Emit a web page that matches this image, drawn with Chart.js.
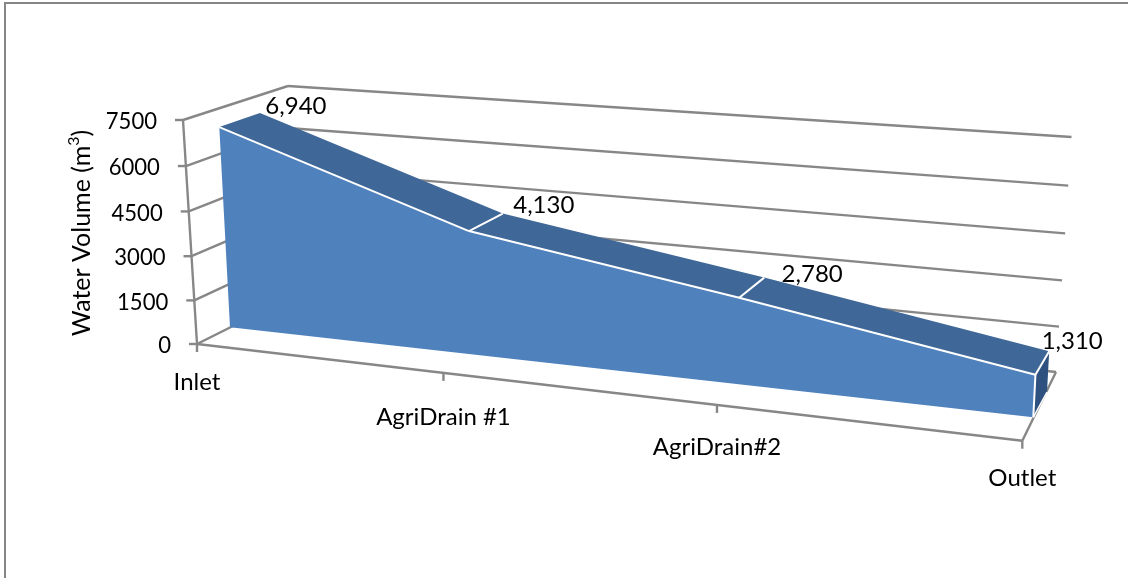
<!DOCTYPE html>
<html>
<head>
<meta charset="utf-8">
<script src="https://cdn.jsdelivr.net/npm/chart.js@4"></script>
<style>
  html, body { margin: 0; background: #fff; }
  canvas { display: block; }
</style>
</head>
<body>
<canvas id="volume-chart" width="1128" height="578"></canvas>
<script>
const categories = ['Inlet', 'AgriDrain #1', 'AgriDrain#2', 'Outlet'];
const waterVolume = [6940, 4130, 2780, 1310];
const yMax = 7500;
const yStep = 1500;
const yTitle = ['Water Volume (m', '3', ')'];

// label nudges in px, Excel doesn't place these evenly
const categoryDrop = [38, 44, 42, 38];
const valueNudge = [[36, -7], [41, -8], [48, -3], [23, -10]];

const FONT = '24px Lato';
const GREY = '#878787';
const LINE_W = 2.4;

// unit square to quad, corners given bl, br, tr, tl
function plane(p0, p1, p2, p3) {
  const dx1 = p1[0] - p2[0], dx2 = p3[0] - p2[0], dx3 = p0[0] - p1[0] + p2[0] - p3[0];
  const dy1 = p1[1] - p2[1], dy2 = p3[1] - p2[1], dy3 = p0[1] - p1[1] + p2[1] - p3[1];
  const den = dx1 * dy2 - dx2 * dy1;
  const g = (dx3 * dy2 - dx2 * dy3) / den;
  const h = (dx1 * dy3 - dx3 * dy1) / den;
  const a = p1[0] - p0[0] + g * p1[0], b = p3[0] - p0[0] + h * p3[0];
  const d = p1[1] - p0[1] + g * p1[1], e = p3[1] - p0[1] + h * p3[1];
  return (u, v) => {
    const w = g * u + h * v + 1;
    return [(a * u + b * v + p0[0]) / w, (d * u + e * v + p0[1]) / w];
  };
}

// the 3-D box, one plane per depth
const frontAxis = plane([197, 344], [1022.3, 440.7], [1039.5, 180], [183, 120]);
const backWall = plane([303, 291], [1056, 372], [1071.5, 137], [288, 86]);
const areaFront = plane([230, 327.3], [1033.3, 417.3], [1045.8, 167.3], [218.4, 110.5]);
const areaBack = plane([271, 306.6], [1047, 392], [1060, 152], [259, 97]);

function line(ctx, a, b, color, width) {
  ctx.beginPath();
  ctx.moveTo(a[0], a[1]);
  ctx.lineTo(b[0], b[1]);
  ctx.strokeStyle = color;
  ctx.lineWidth = width;
  ctx.stroke();
}

function poly(ctx, pts, fill) {
  ctx.beginPath();
  pts.forEach((p, i) => i ? ctx.lineTo(p[0], p[1]) : ctx.moveTo(p[0], p[1]));
  ctx.closePath();
  ctx.fillStyle = fill;
  ctx.fill();
}

const box3d = {
  id: 'box3d',
  beforeDatasetsDraw(chart) {
    const { ctx, chartArea: area, scales: { x, y } } = chart;
    const vOf = val => (area.bottom - y.getPixelForValue(val)) / area.height;
    const uOf = i => (x.getPixelForValue(i) - area.left) / area.width;
    const pts = chart.getDatasetMeta(0).data;
    const us = pts.map(p => (p.x - area.left) / area.width);
    const vs = pts.map(p => (area.bottom - p.y) / area.height);
    const last = us.length - 1;

    ctx.save();
    ctx.lineCap = 'butt';

    // sheet outline
    ctx.fillStyle = '#868686';
    ctx.fillRect(4, 2, 1124, 2);
    ctx.fillRect(4, 2, 2, 576);

    // gridlines, side wall then back wall
    y.ticks.forEach(t => {
      const v = vOf(t.value);
      const front = frontAxis(0, v);
      line(ctx, [front[0] - 8, front[1]], front, GREY, LINE_W);
      line(ctx, front, backWall(0, v), GREY, LINE_W);
      line(ctx, backWall(0, v), backWall(1, v), GREY, LINE_W);
    });

    // axes and floor edge
    line(ctx, frontAxis(0, 0), frontAxis(0, 1), GREY, LINE_W);
    line(ctx, frontAxis(0, 0), frontAxis(1, 0), GREY, LINE_W);
    line(ctx, frontAxis(1, 0), backWall(1, 0), GREY, LINE_W);
    categories.forEach((c, i) => {
      const p = frontAxis(uOf(i), 0);
      line(ctx, p, [p[0], p[1] + 8], GREY, LINE_W);
    });

    // area solid: top strips, end cap, front face
    for (let i = 0; i < last; i++) {
      poly(ctx, [
        areaFront(us[i], vs[i]), areaFront(us[i + 1], vs[i + 1]),
        areaBack(us[i + 1], vs[i + 1]), areaBack(us[i], vs[i])
      ], '#3f6797');
    }
    const cap = [
      areaFront(us[last], 0), areaFront(us[last], vs[last]),
      areaBack(us[last], vs[last]), areaBack(us[last], 0)
    ];
    poly(ctx, cap, '#2f5180');

    const face = us.map((u, i) => areaFront(u, vs[i]));
    face.push(areaFront(us[last], 0), areaFront(us[0], 0));
    poly(ctx, face, '#4f81bd');

    // white edges
    for (let i = 0; i < last; i++) {
      line(ctx, face[i], face[i + 1], '#fff', 2);
    }
    for (let i = 1; i <= last; i++) {
      line(ctx, areaFront(us[i], vs[i]), areaBack(us[i], vs[i]), '#fff', 2);
    }
    line(ctx, cap[0], cap[1], '#fff', 2);
    line(ctx, cap[0], cap[3], '#fff', 1.5);
    ctx.restore();
  },
  afterDatasetsDraw(chart) {
    const { ctx, chartArea: area, scales: { x, y } } = chart;
    const vOf = val => (area.bottom - y.getPixelForValue(val)) / area.height;
    const pts = chart.getDatasetMeta(0).data;

    ctx.save();
    ctx.font = FONT;
    ctx.fillStyle = '#000';
    ctx.textBaseline = 'middle';

    // value axis labels, squeezed a little since Lato digits run wide
    ctx.textAlign = 'right';
    y.ticks.forEach(t => {
      const p = frontAxis(0, vOf(t.value));
      const w = ctx.measureText(t.label).width;
      ctx.fillText(t.label, p[0] - 26, p[1] + 1.5, w * 0.92);
    });

    // category labels
    ctx.textAlign = 'center';
    categories.forEach((c, i) => {
      const p = frontAxis((x.getPixelForValue(i) - area.left) / area.width, 0);
      ctx.fillText(c, p[0], p[1] + categoryDrop[i]);
    });

    // value labels sit by the back edge of the solid
    waterVolume.forEach((val, i) => {
      const p = areaBack((pts[i].x - area.left) / area.width, (area.bottom - pts[i].y) / area.height);
      ctx.fillText(val.toLocaleString('en-US'), p[0] + valueNudge[i][0], p[1] + valueNudge[i][1]);
    });

    // rotated axis title with a raised 3
    ctx.font = '25px Lato';
    ctx.translate(82, 233);
    ctx.rotate(-Math.PI / 2);
    ctx.textAlign = 'left';
    const w0 = ctx.measureText(yTitle[0]).width;
    const w2 = ctx.measureText(yTitle[2]).width;
    ctx.font = '16px Lato';
    const w1 = ctx.measureText(yTitle[1]).width;
    const start = -(w0 + w1 + w2) / 2;
    ctx.fillText(yTitle[1], start + w0, -8);
    ctx.font = '25px Lato';
    ctx.fillText(yTitle[0], start, 0);
    ctx.fillText(yTitle[2], start + w0 + w1, 0);
    ctx.restore();
  }
};

new Chart(document.getElementById('volume-chart'), {
  type: 'line',
  plugins: [box3d],
  data: {
    labels: categories,
    datasets: [{
      label: 'Water Volume',
      data: waterVolume,
      showLine: false,
      pointRadius: 0
    }]
  },
  options: {
    responsive: false,
    animation: false,
    layout: { padding: 0 },
    plugins: {
      legend: { display: false },
      tooltip: { enabled: false }
    },
    scales: {
      x: { display: false },
      y: {
        display: false,
        min: 0,
        max: yMax,
        ticks: { stepSize: yStep, callback: v => String(v) }
      }
    }
  }
});
</script>
</body>
</html>
